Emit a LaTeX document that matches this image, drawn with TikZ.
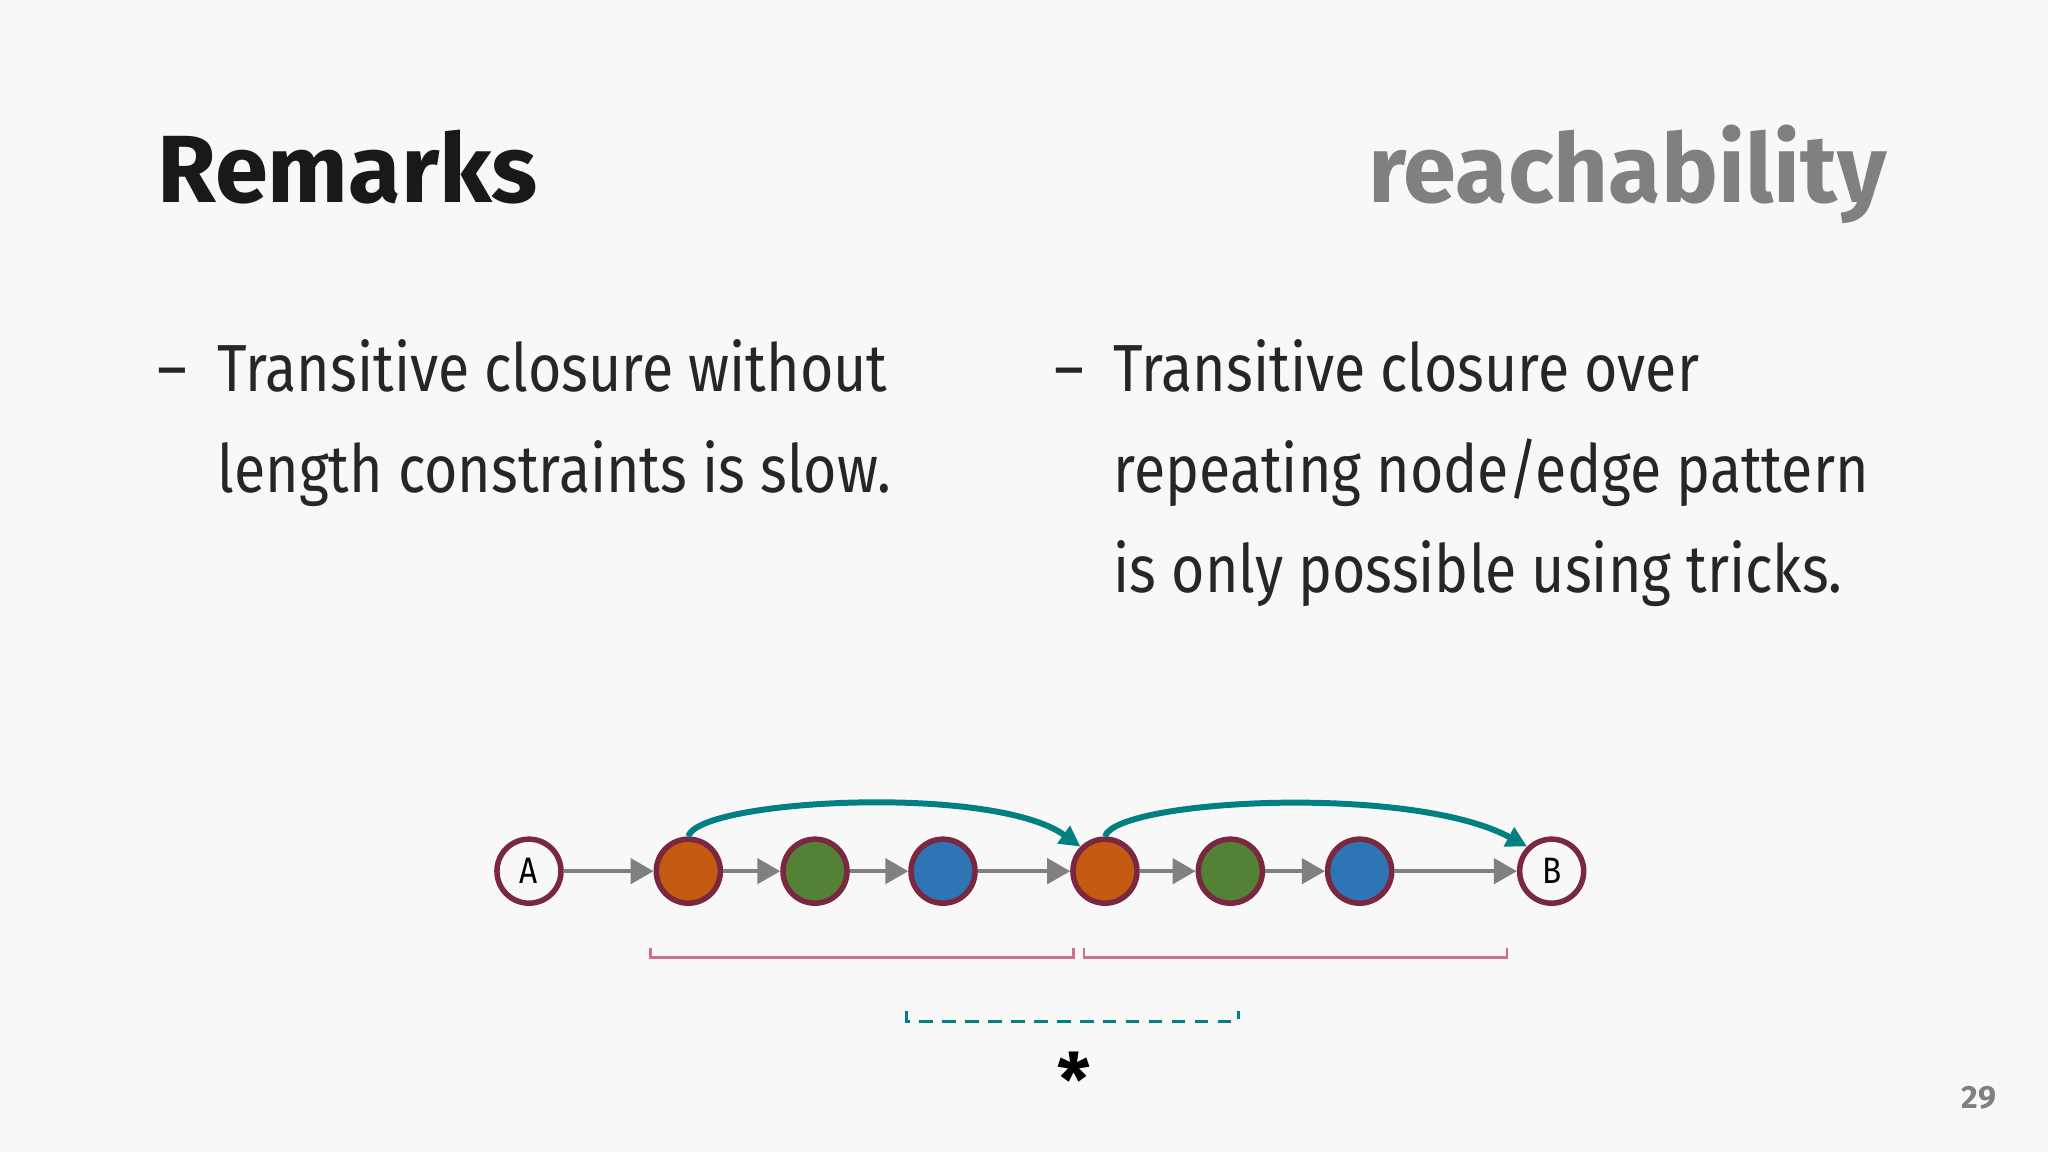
\documentclass[tikz,border=0pt]{standalone}
\usepackage{fontspec}
\setmainfont{Fira Sans}
\newfontfamily\bodyfont{Fira Sans}[FakeStretch=0.86]
\usetikzlibrary{arrows.meta}
\definecolor{bg}{HTML}{F8F8F8}
\definecolor{rim}{HTML}{7A2740}
\definecolor{cor}{HTML}{C55A11}
\definecolor{cgr}{HTML}{538135}
\definecolor{cbl}{HTML}{2E75B6}
\definecolor{teal}{HTML}{008080}
\definecolor{pinkb}{HTML}{D07090}
\tikzset{
 nd/.style={circle,draw=rim,line width=1.2pt,minimum size=0.49cm,inner sep=0pt,font=\bodyfont\fontsize{8}{8}\selectfont},
 gar/.style={draw=gray,line width=0.8pt,-{Triangle[length=5pt,width=5.5pt]}},
 tar/.style={draw=teal,line width=1.3pt,-{Triangle[length=4.5pt,width=4.5pt]}},
 body/.style={anchor=base west,font=\bodyfont\fontsize{14.5}{14.5}\selectfont,text=black!85},
}
\begin{document}
\begin{tikzpicture}[x=0.01cm,y=-0.01cm]
\fill[bg] (0,0) rectangle (1568,882);
\useasboundingbox (0,0) rectangle (1568,882);
\node[anchor=base west,inner sep=0,font=\fontsize{20.8}{20.8}\selectfont\bfseries,text=black!90] (t1) at (120,155) {Remarks};
\node[anchor=base east,inner sep=0,font=\fontsize{20.8}{20.8}\selectfont\bfseries,text=gray] (t2) at (1445,155) {reachability};
\node[body,inner sep=0] (d1) at (120,300) {–};
\node[body,inner sep=0] (l1) at (166,300) {Transitive closure without};
\node[body,inner sep=0] (l2) at (166,377) {length constraints is slow.};
\node[body,inner sep=0] (d2) at (807,300) {–};
\node[body,inner sep=0] (r1) at (852,300) {Transitive closure over};
\node[body,inner sep=0] (r2) at (852,377) {repeating node/edge pattern};
\node[body,inner sep=0] (r3) at (852,454) {is only possible using tricks.};
\node[nd,fill=bg] (A) at (405,667) {A};
\node[nd,fill=cor] (o1) at (527,667) {};
\node[nd,fill=cgr] (g1) at (624,667) {};
\node[nd,fill=cbl] (b1) at (722,667) {};
\node[nd,fill=cor] (o2) at (846,667) {};
\node[nd,fill=cgr] (g2) at (942,667) {};
\node[nd,fill=cbl] (b2) at (1041,667) {};
\node[nd,fill=bg] (B) at (1188,667) {B};
\foreach \a/\b in {A/o1,o1/g1,g1/b1,b1/o2,o2/g2,g2/b2,b2/B} \draw[gar] (\a) -- (\b);
\draw[tar] (o1.north) .. controls (535,612) and (760,600) .. (o2.north west);
\draw[tar] (o2.north) .. controls (855,612) and (1080,600) .. (B.north west);
\draw[pinkb,line width=0.5pt] (498,726) -- (498,733) -- (822,733) -- (822,726);
\draw[pinkb,line width=0.5pt] (830,726) -- (830,733) -- (1154,733) -- (1154,726);
\draw[teal,line width=0.7pt,dash pattern=on 3pt off 2pt] (694,774) -- (694,782) -- (948,782) -- (948,774);
\node[font=\fontsize{16}{16}\selectfont\bfseries] (st) at (822,826) {*};
\node[anchor=base east,inner sep=0,font=\fontsize{7}{7}\selectfont\bfseries,text=gray] (pn) at (1529,849) {29};
\end{tikzpicture}
\end{document}
